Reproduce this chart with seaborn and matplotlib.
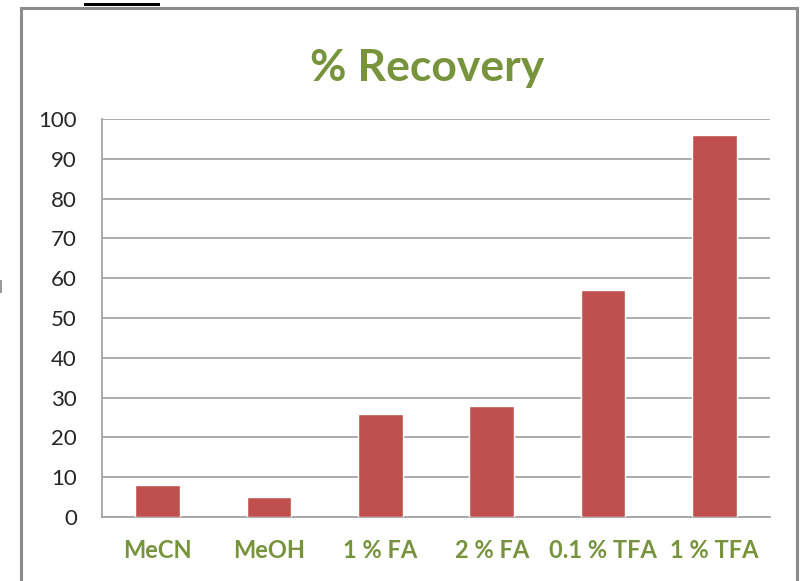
import matplotlib
matplotlib.use("Agg")
import matplotlib.pyplot as plt
import seaborn as sns
import pandas as pd
from matplotlib.patches import Rectangle

solvents = ["MeCN", "MeOH", "1 % FA", "2 % FA", "0.1 % TFA", "1 % TFA"]
recovery = [8, 5, 26, 28, 57, 96]
yticks = [0, 10, 20, 30, 40, 50, 60, 70, 80, 90, 100]

df = pd.DataFrame({"solvent": solvents, "recovery": recovery})

sns.set_theme(style="white")
plt.rcParams["font.family"] = ["Lato", "DejaVu Sans"]

green = "#77933C"
bar_red = "#C0504D"
grid_gray = "#A6A6A6"

fig = plt.figure(figsize=(8, 5.81), dpi=100)
W, H = 800, 581

# chart frame
fig.patches.append(Rectangle((21 / W, -0.05), (797 - 21) / W, 1.05 - 8 / H,
                             transform=fig.transFigure, fill=False,
                             edgecolor="#8C8C8C", linewidth=2.2))
fig.patches.append(Rectangle((84 / W, (H - 6) / H), 76 / W, 3 / H,
                             transform=fig.transFigure, color="black", lw=0))
fig.patches.append(Rectangle((0, (H - 293) / H), 2 / W, 13 / H,
                             transform=fig.transFigure, color="#9A9A9A", lw=0))

ax = fig.add_axes([102 / W, (H - 517) / H, (770 - 102) / W, (517 - 119) / H])
sns.barplot(data=df, x="solvent", y="recovery", color=bar_red, saturation=1,
            width=0.4, ax=ax, zorder=3)

ax.set_ylim(0, 100)
ax.set_yticks(yticks)
ax.set_yticklabels([str(t) for t in yticks], fontsize=16, color="#262626")
ax.yaxis.grid(True, color=grid_gray, linewidth=1.3, zorder=0)
ax.set_axisbelow(True)
ax.tick_params(axis="y", length=0, pad=18)
ax.tick_params(axis="x", length=0, pad=16)
for lbl in ax.get_xticklabels():
    lbl.set_color(green)
    lbl.set_fontweight("bold")
    lbl.set_fontsize(17)
ax.set_xlabel("")
ax.set_ylabel("")
for side in ["top", "right"]:
    ax.spines[side].set_visible(False)
for side in ["left", "bottom"]:
    ax.spines[side].set_color(grid_gray)
    ax.spines[side].set_linewidth(1.3)

fig.text(427 / W, (H - 68) / H, "% Recovery", ha="center", va="center",
         fontsize=32, fontweight="bold", color=green)

fig.savefig("out.png", dpi=100)
